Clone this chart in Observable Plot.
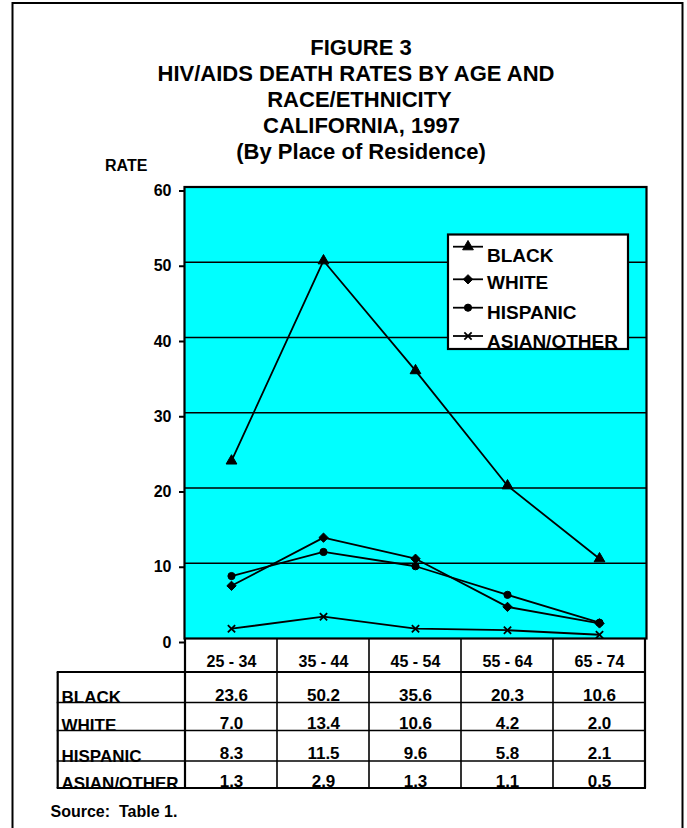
<!DOCTYPE html>
<html>
<head>
<meta charset="utf-8">
<script src="https://cdn.jsdelivr.net/npm/d3@7"></script>
<script src="https://cdn.jsdelivr.net/npm/@observablehq/plot@0.6"></script>
<style>
  html, body { margin: 0; padding: 0; background: white; }
  svg { display: block; }
</style>
</head>
<body>
<div id="chart"></div>
<script>
// ---- data ----
const ages = ["25 - 34", "35 - 44", "45 - 54", "55 - 64", "65 - 74"];
const groups = ["BLACK", "WHITE", "HISPANIC", "ASIAN/OTHER"];
const black = [23.6, 50.2, 35.6, 20.3, 10.6];
const white = [7.0, 13.4, 10.6, 4.2, 2.0];
const hispanic = [8.3, 11.5, 9.6, 5.8, 2.1];
const asianOther = [1.3, 2.9, 1.3, 1.1, 0.5];
const yTicks = [0, 10, 20, 30, 40, 50, 60];
const titleLines = ["FIGURE 3", "HIV/AIDS DEATH RATES BY AGE AND", "RACE/ETHNICITY", "CALIFORNIA, 1997", "(By Place of Residence)"];
const yLabel = "RATE";
const sourceNote = "Source:  Table 1.";

const seriesValues = [black, white, hispanic, asianOther];
const rows = groups.flatMap((g, gi) => ages.map((a, i) => ({group: g, age: a, value: seriesValues[gi][i]})));

const symbolOf = {"BLACK": "triangle", "WHITE": "diamond2", "HISPANIC": "circle", "ASIAN/OTHER": "times"};
const rOf = {"BLACK": 4, "WHITE": 4.2, "HISPANIC": 3.6, "ASIAN/OTHER": 3.4};

const FONT = "Liberation Sans, Arial, Helvetica, sans-serif";

// table layout (px offsets below the zero line)
const rowBase = [62, 90, 120.5, 148.5];    // value baselines
const labelBase = [64.5, 92.5, 123, 150];  // row label baselines
const rowLines = [34, 64.5, 92.5, 123, 150];

const dots = groups.map(g => Plot.dot(rows.filter(d => d.group === g), {
  x: "age", y: "value", symbol: symbolOf[g], r: rOf[g],
  fill: g === "ASIAN/OTHER" ? "none" : "black",
  stroke: "black", strokeWidth: g === "ASIAN/OTHER" ? 1.8 : 1
}));

const tableValues = groups.map((g, gi) => Plot.text(rows.filter(d => d.group === g), {
  x: "age", frameAnchor: "bottom", dy: rowBase[gi], lineAnchor: "bottom",
  text: d => d.value.toFixed(1), fontSize: 17, fontWeight: "bold", fill: "black"
}));

const tableLabels = groups.map((g, gi) => Plot.text([g], {
  frameAnchor: "bottom-left", dx: -123, dy: labelBase[gi], lineAnchor: "bottom",
  textAnchor: "start", text: d => d, fontSize: 17, fontWeight: "bold", fill: "black"
}));

const chart = Plot.plot({
  width: 687,
  height: 828,
  marginTop: 186.5,
  marginBottom: 190,
  marginLeft: 184,
  marginRight: 41,
  style: {fontFamily: FONT, background: "white", color: "black", overflow: "visible"},
  x: {type: "point", domain: ages, padding: 0.5, axis: null},
  y: {domain: [0, 60], axis: null},
  marks: [
    Plot.frame({fill: "#00FFFF"}),
    Plot.ruleY(yTicks.filter(t => t > 0 && t < 60), {stroke: "black", strokeWidth: 1.4}),
    Plot.line(rows, {x: "age", y: "value", z: "group", stroke: "black", strokeWidth: 1.8}),
    ...dots,
    Plot.frame({stroke: "black", strokeWidth: 2.2}),
    Plot.axisY({ticks: yTicks, tickSize: 5, tickPadding: 8, tickFormat: d => d, label: null,
      fontSize: 16, fontWeight: "bold", dy: 4, strokeWidth: 2}),
    Plot.text(ages, {x: d => d, frameAnchor: "bottom", dy: 28, lineAnchor: "bottom",
      text: d => d, fontSize: 16, fontWeight: "bold", fill: "black"}),
    ...tableValues,
    ...tableLabels
  ]
});

document.getElementById("chart").appendChild(chart);

// ---- extra decorations using Plot's scales ----
const svg = d3.select(chart);
const xs = chart.scale("x");
const ys = chart.scale("y");
const centers = ages.map(a => xs.apply(a));
const step = centers[1] - centers[0];
const bounds = centers.map(c => c - step / 2).concat([centers[centers.length - 1] + step / 2]);
const y0 = ys.apply(0);
const xL = bounds[0], xR = bounds[bounds.length - 1];
const tableLeft = 57.7;

// page border
svg.append("rect").attr("x", 12.5).attr("y", 3).attr("width", 670).attr("height", 900)
  .attr("fill", "none").attr("stroke", "black").attr("stroke-width", 2);

// titles
const titleX = [361, 356, 359.5, 361.5, 361];
const titleY = [55, 81, 107.3, 133.3, 159];
titleLines.forEach((t, i) => {
  svg.append("text").attr("x", titleX[i]).attr("y", titleY[i]).attr("text-anchor", "middle")
    .attr("font-family", FONT).attr("font-weight", "bold").attr("font-size", 22).attr("fill", "black").text(t);
});
svg.append("text").attr("x", 105).attr("y", 170.5).attr("text-anchor", "start").attr("font-family", FONT)
  .attr("font-weight", "bold").attr("font-size", 16).attr("fill", "black").text(yLabel);

// table grid
const g = svg.append("g").attr("stroke", "black").attr("fill", "none");
bounds.forEach((b, i) => {
  g.append("line").attr("x1", b).attr("x2", b).attr("y1", y0).attr("y2", y0 + rowLines[4])
    .attr("stroke-width", (i === 0 || i === bounds.length - 1) ? 2.2 : 1.6);
});
g.append("line").attr("x1", tableLeft).attr("x2", tableLeft).attr("y1", y0 + rowLines[0]).attr("y2", y0 + rowLines[4]).attr("stroke-width", 2.2);
rowLines.forEach((r, i) => {
  g.append("line").attr("x1", tableLeft - 1).attr("x2", xR + 1).attr("y1", y0 + r).attr("y2", y0 + r)
    .attr("stroke-width", (i === 0 || i === rowLines.length - 1) ? 2.2 : 1.4);
});

// legend
const lg = svg.append("g");
lg.append("rect").attr("x", 448).attr("y", 234.5).attr("width", 180).attr("height", 114.5)
  .attr("fill", "white");
const legLineY = [246.7, 279.3, 307.7, 336];
const legTextY = [261.7, 289.3, 319, 348];
const d3sym = {"triangle": d3.symbolTriangle, "diamond2": d3.symbolDiamond2, "circle": d3.symbolCircle, "times": d3.symbolTimes};
groups.forEach((gr, i) => {
  lg.append("line").attr("x1", 453).attr("x2", 483).attr("y1", legLineY[i]).attr("y2", legLineY[i])
    .attr("stroke", "black").attr("stroke-width", 1.8);
  const r = rOf[gr];
  lg.append("path").attr("transform", `translate(468,${legLineY[i]})`)
    .attr("d", d3.symbol(d3sym[symbolOf[gr]], Math.PI * r * r)())
    .attr("fill", gr === "ASIAN/OTHER" ? "none" : "black").attr("stroke", "black")
    .attr("stroke-width", gr === "ASIAN/OTHER" ? 1.8 : 1);
  lg.append("text").attr("x", 487).attr("y", legTextY[i]).attr("text-anchor", "start").attr("font-family", FONT)
    .attr("font-weight", "bold").attr("font-size", 19).attr("fill", "black").text(gr);
});
lg.append("rect").attr("x", 448).attr("y", 234.5).attr("width", 180).attr("height", 114.5)
  .attr("fill", "none").attr("stroke", "black").attr("stroke-width", 2.2);

// source
svg.append("text").attr("x", 50.5).attr("y", 817).attr("text-anchor", "start").attr("font-family", FONT)
  .attr("font-weight", "bold").attr("font-size", 16).attr("fill", "black").text(sourceNote);
</script>
</body>
</html>
